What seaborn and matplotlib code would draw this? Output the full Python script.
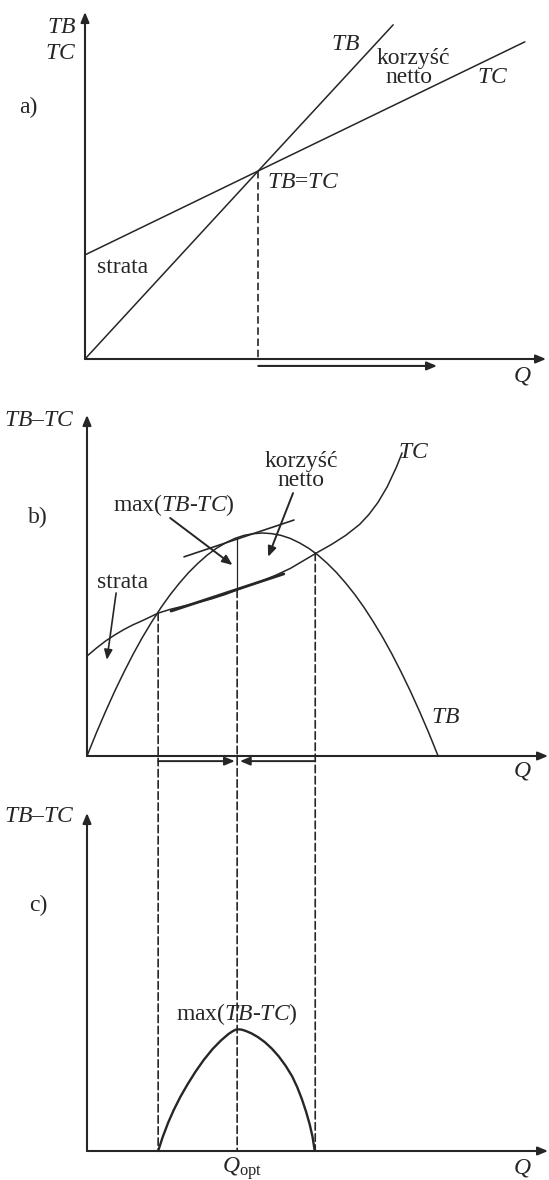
import numpy as np
import pandas as pd
import matplotlib.pyplot as plt
import seaborn as sns
from matplotlib.patches import ConnectionPatch

# a) linear benefit and cost
q_a_tb = [0, 37.5, 66.7]
tb_a = [0, 54.2, 96.3]
q_a_tc = [0, 37.5, 95.2]
tc_a = [30.0, 54.2, 91.4]
q_even = 37.5
tb_even = 54.2
q_a_arrow_end = 76.2

# b) concave TB, S-shaped TC
q_b_tb = [0, 2, 4, 6, 8, 10, 12, 14, 16, 18, 20, 22, 24, 26, 28, 30, 32, 34, 36, 38,
          40, 42, 44, 46, 48, 50, 52, 54, 56, 58, 60, 62, 64, 66, 68, 70, 72, 74, 76]
tb_b = [0, 6.7, 13.0, 19.0, 24.6, 29.9, 34.8, 39.3, 43.5, 47.3, 50.7, 53.8, 56.5, 58.9,
        60.9, 62.5, 63.8, 64.7, 65.2, 65.4, 65.2, 64.7, 63.8, 62.5, 60.9, 58.9, 56.5,
        53.8, 50.7, 47.3, 43.5, 39.3, 34.8, 29.9, 24.6, 19.0, 13.0, 6.7, 0]
q_b_tc = [0, 2, 4, 6, 8, 10, 12, 15.4, 18, 21, 24, 27, 30, 32.5, 35, 38, 41, 44, 47, 50,
          53, 56, 59, 61, 63, 65, 67, 68.2]
tc_b = [29.3, 31.6, 33.7, 35.5, 37.1, 38.5, 39.7, 41.9, 43.0, 44.0, 45.0, 46.1, 47.4, 48.7,
        49.9, 51.4, 53.1, 55.0, 57.4, 59.8, 62.1, 64.7, 67.9, 70.8, 74.4, 79.0, 84.8, 88.9]
q_low, q_opt, q_high = 15.4, 32.5, 49.4
tc_low, tc_opt, tc_high = 41.9, 48.7, 59.5
tb_opt = 64.0
tan_tb_q = [21.0, 44.8]
tan_tb = [58.4, 69.2]
tan_tc_q = [18.2, 42.6]
tan_tc = [42.5, 53.4]

# c) net benefit TB-TC
q_c = [15.4, 16.4, 17.6, 18.8, 20.2, 21.8, 23.5, 25.3, 27.2, 29.0, 30.6, 31.6, 32.2, 32.8,
       33.5, 34.4, 35.6, 37.0, 38.5, 40.0, 41.5, 43.0, 44.4, 45.5, 46.5, 47.4, 48.2, 48.8, 49.3]
net_c = [0, 4.2, 8.5, 12.2, 16.0, 19.8, 23.5, 27.0, 30.2, 32.7, 34.6, 35.5, 35.9, 36.0,
         35.9, 35.5, 34.8, 33.7, 32.2, 30.3, 28.0, 25.2, 22.1, 18.9, 15.4, 11.7, 7.9, 4.3, 0]

ink = "#262626"
W, H = 549, 1180

sns.set_theme(style="white")
plt.rcParams["font.family"] = ["Liberation Serif", "DejaVu Serif"]
plt.rcParams["mathtext.fontset"] = "custom"
plt.rcParams["mathtext.rm"] = "Liberation Serif"
plt.rcParams["mathtext.it"] = "Liberation Serif:italic"
plt.rcParams["mathtext.bf"] = "Liberation Serif:bold"

fig = plt.figure(figsize=(W / 100, H / 100), dpi=100)
fig.patch.set_facecolor("white")


def panel(left, origin, top, right):
    ax = fig.add_axes([left / W, 1 - origin / H, (right - left) / W, (origin - top) / H])
    ax.set_xlim(0, 100)
    ax.set_ylim(0, 100)
    ax.axis("off")
    return ax


def arrow(ax, start, end, lw=1.5, head=0.6, width=0.25):
    ax.annotate("", xy=end, xytext=start, annotation_clip=False,
                arrowprops=dict(arrowstyle=f"-|>,head_length={head},head_width={width}",
                                lw=lw, color=ink, shrinkA=0, shrinkB=0, mutation_scale=10))


def axes_arrows(ax):
    arrow(ax, (0, 0), (99.8, 0))
    arrow(ax, (0, 0), (0, 100))


fs = 17
dash = (0, (4.5, 2.2))

ax_a = panel(85, 359, 12, 547)
ax_b = panel(87, 756, 415, 549)
ax_c = panel(87, 1151, 813, 549)

# ---- a)
sns.lineplot(x=q_a_tb, y=tb_a, ax=ax_a, color=ink, lw=1.1, sort=False, clip_on=False)
sns.lineplot(x=q_a_tc, y=tc_a, ax=ax_a, color=ink, lw=1.1, sort=False, clip_on=False)
ax_a.plot([q_even, q_even], [tb_even, 0], color=ink, lw=1.2, ls=dash)
axes_arrows(ax_a)
arrow(ax_a, (q_even, -2.0), (q_a_arrow_end, -2.0))
ax_a.text(-1.9, 95.4, "$TB$", fontsize=fs, ha="right", va="center", color=ink)
ax_a.text(-1.9, 87.9, "$TC$", fontsize=fs, ha="right", va="center", color=ink)
ax_a.text(-12.3, 72.6, "a)", fontsize=fs, ha="center", va="center", color=ink)
ax_a.text(56.3, 90.5, "$TB$", fontsize=fs, ha="center", va="center", color=ink)
ax_a.text(71.0, 86.5, "korzyść", fontsize=fs, ha="center", va="center", color=ink)
ax_a.text(70.2, 81.0, "netto", fontsize=fs, ha="center", va="center", color=ink)
ax_a.text(88.3, 81.0, "$TC$", fontsize=fs, ha="center", va="center", color=ink)
ax_a.text(39.4, 51.0, "$TB$=$TC$", fontsize=fs, ha="left", va="center", color=ink)
ax_a.text(8.2, 26.5, "strata", fontsize=fs, ha="center", va="center", color=ink)
ax_a.text(94.6, -4.9, "$Q$", fontsize=fs, ha="center", va="center", color=ink)

# ---- b)
sns.lineplot(x=q_b_tb, y=tb_b, ax=ax_b, color=ink, lw=1.1, sort=False, clip_on=False)
sns.lineplot(x=q_b_tc, y=tc_b, ax=ax_b, color=ink, lw=1.1, sort=False, clip_on=False)
ax_b.plot(tan_tb_q, tan_tb, color=ink, lw=1.2)
ax_b.plot(tan_tc_q, tan_tc, color=ink, lw=2.0)
ax_b.plot([q_opt, q_opt], [tb_opt, tc_opt], color=ink, lw=0.9)
axes_arrows(ax_b)
arrow(ax_b, (q_low, -1.5), (32.0, -1.5), lw=1.4)
arrow(ax_b, (q_high, -1.5), (33.1, -1.5), lw=1.4)
arrow(ax_b, (18.0, 69.8), (31.5, 56.0), lw=1.4)
arrow(ax_b, (44.6, 77.1), (39.2, 58.4), lw=1.4)
arrow(ax_b, (6.3, 47.8), (4.3, 28.2), lw=1.2)
ax_b.text(-2.6, 98.5, "$TB$–$TC$", fontsize=fs, ha="right", va="center", color=ink)
ax_b.text(-10.6, 70.1, "b)", fontsize=fs, ha="center", va="center", color=ink)
ax_b.text(70.6, 89.1, "$TC$", fontsize=fs, ha="center", va="center", color=ink)
ax_b.text(46.3, 86.4, "korzyść", fontsize=fs, ha="center", va="center", color=ink)
ax_b.text(46.3, 80.9, "netto", fontsize=fs, ha="center", va="center", color=ink)
ax_b.text(18.8, 73.6, "max($TB$-$TC$)", fontsize=fs, ha="center", va="center", color=ink)
ax_b.text(7.6, 51.0, "strata", fontsize=fs, ha="center", va="center", color=ink)
ax_b.text(77.5, 11.4, "$TB$", fontsize=fs, ha="center", va="center", color=ink)
ax_b.text(94.2, -4.4, "$Q$", fontsize=fs, ha="center", va="center", color=ink)

# dashed guides from b) down to the axis of c)
for q, top in [(q_low, tc_low), (q_opt, tc_opt), (q_high, tc_high)]:
    con = ConnectionPatch(xyA=(q, top), coordsA=ax_b.transData, xyB=(q, 0), coordsB=ax_c.transData,
                          color=ink, lw=1.2, ls=dash)
    fig.add_artist(con)

# ---- c)
sns.lineplot(x=q_c, y=net_c, ax=ax_c, color=ink, lw=1.7, sort=False, clip_on=False)
axes_arrows(ax_c)
ax_c.text(-2.6, 99.1, "$TB$–$TC$", fontsize=fs, ha="right", va="center", color=ink)
ax_c.text(-10.6, 72.6, "c)", fontsize=fs, ha="center", va="center", color=ink)
ax_c.text(q_opt, 40.5, "max($TB$-$TC$)", fontsize=fs, ha="center", va="center", color=ink)
ax_c.text(33.5, -5.1, r"$Q_{\mathrm{opt}}$", fontsize=fs, ha="center", va="center", color=ink)
ax_c.text(94.2, -5.1, "$Q$", fontsize=fs, ha="center", va="center", color=ink)

fig.savefig("out.png", dpi=100, facecolor="white")
